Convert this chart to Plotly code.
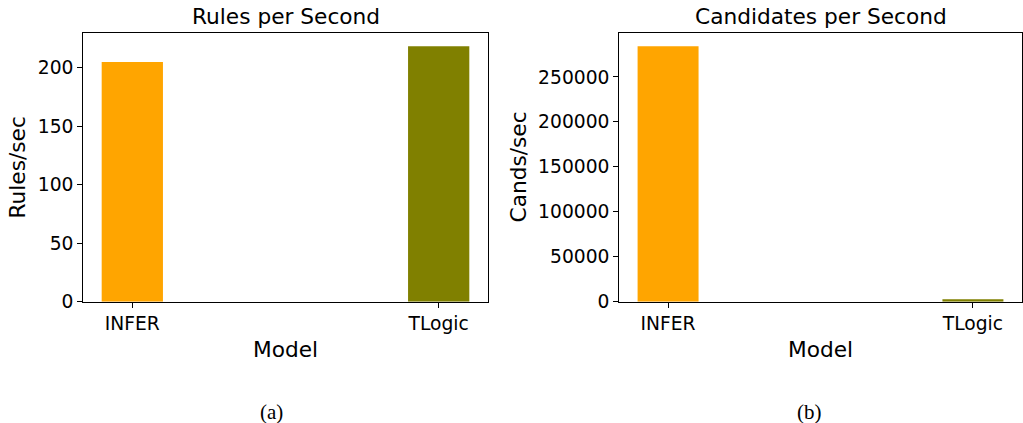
import plotly.graph_objects as go

# Throughput of the two rule-learning models
models = ["INFER", "TLogic"]
rules_per_sec = [205, 218.5]
cands_per_sec = [284200, 2600]
bar_colors = ["#FFA500", "#808000"]

W, H = 1023, 423
SANS = "DejaVu Sans"
TICK_SIZE = 18.7
LABEL_SIZE = 21.7


def px_x(x):
    return x / W


def px_y(y):
    return 1 - y / H


left_dom = [px_x(83.3), px_x(487.7)]
right_dom = [px_x(619.3), px_x(1021.7)]
y_dom = [px_y(301.7), px_y(33.3)]

fig = go.Figure()
fig.add_trace(go.Bar(x=models, y=rules_per_sec, marker_color=bar_colors,
                     marker_line_width=0, width=0.2, xaxis="x", yaxis="y"))
fig.add_trace(go.Bar(x=models, y=cands_per_sec, marker_color=bar_colors,
                     marker_line_width=0, width=0.2, xaxis="x2", yaxis="y2"))

axis_common = dict(showline=True, linecolor="black", linewidth=1.2, mirror=True,
                   ticks="outside", ticklen=5, tickwidth=1.2, tickcolor="black",
                   showgrid=False, zeroline=False, automargin=False,
                   tickfont=dict(family=SANS, size=TICK_SIZE, color="black"))

fig.update_layout(
    template="none",
    width=W, height=H,
    margin=dict(l=0, r=0, t=0, b=0, pad=0, autoexpand=False),
    paper_bgcolor="white", plot_bgcolor="white",
    showlegend=False,
    xaxis=dict(domain=left_dom, anchor="y", type="category",
               range=[-0.16, 1.16], **axis_common),
    yaxis=dict(domain=y_dom, anchor="x", range=[0, 229.6], dtick=50,
               tickformat="d", **axis_common),
    xaxis2=dict(domain=right_dom, anchor="y2", type="category",
                range=[-0.16, 1.16], **axis_common),
    yaxis2=dict(domain=y_dom, anchor="x2", range=[0, 298600], dtick=50000,
                tickformat="d", **axis_common),
)

texts = [
    # panel titles
    dict(text="Rules per Second", x=px_x(285.5), y=px_y(16), size=LABEL_SIZE, angle=0, fam=SANS),
    dict(text="Candidates per Second", x=px_x(820.5), y=px_y(16), size=LABEL_SIZE, angle=0, fam=SANS),
    # axis labels
    dict(text="Model", x=px_x(285.5), y=px_y(349), size=LABEL_SIZE, angle=0, fam=SANS),
    dict(text="Model", x=px_x(820.5), y=px_y(349), size=LABEL_SIZE, angle=0, fam=SANS),
    dict(text="Rules/sec", x=px_x(17), y=px_y(167.5), size=LABEL_SIZE, angle=-90, fam=SANS),
    dict(text="Cands/sec", x=px_x(518), y=px_y(167.5), size=LABEL_SIZE, angle=-90, fam=SANS),
    # sub-figure captions
    dict(text="(a)", x=px_x(271.5), y=px_y(412), size=21, angle=0, fam="Liberation Serif"),
    dict(text="(b)", x=px_x(809), y=px_y(412), size=21, angle=0, fam="Liberation Serif"),
]
for t in texts:
    fig.add_annotation(text=t["text"], x=t["x"], y=t["y"], xref="paper", yref="paper",
                       xanchor="center", yanchor="middle", showarrow=False,
                       textangle=t["angle"],
                       font=dict(family=t["fam"], size=t["size"], color="black"))

fig.write_html("out.html")
